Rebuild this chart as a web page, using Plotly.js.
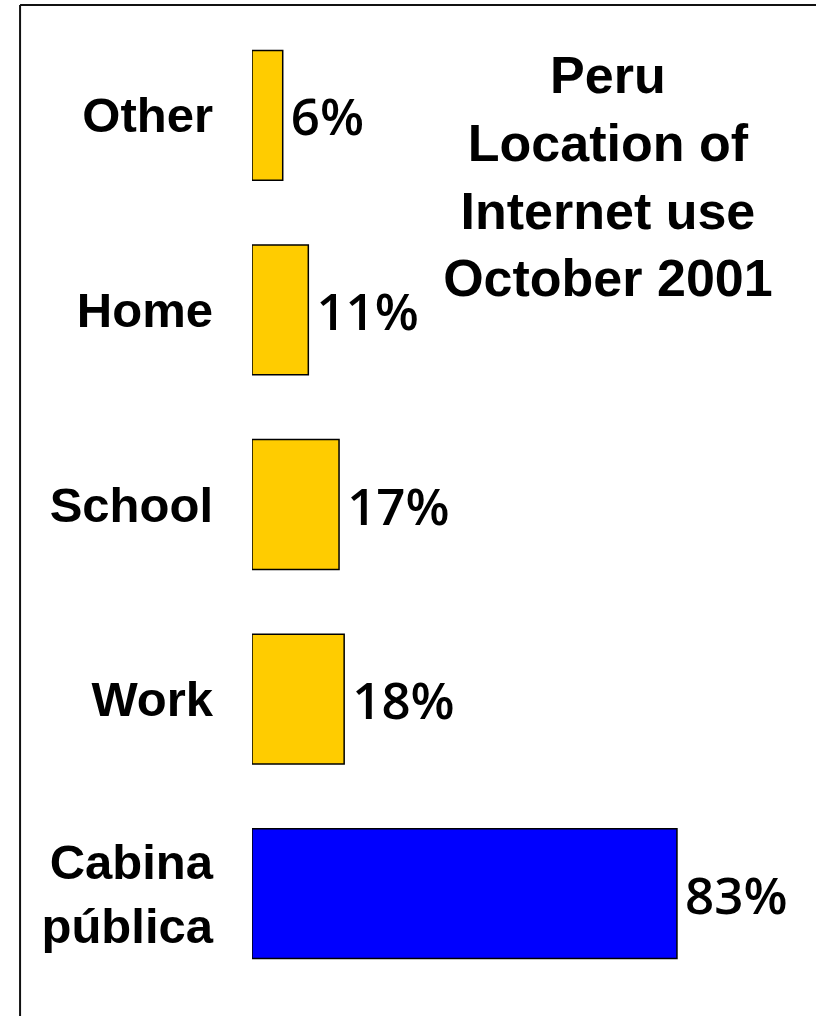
<!DOCTYPE html>
<html>
<head>
<meta charset="utf-8">
<script src="https://cdn.plot.ly/plotly-3.0.1.min.js"></script>
<style>html,body{margin:0;padding:0;background:#fff;overflow:hidden}#chart{width:816px;height:1016px}</style>
</head>
<body>
<div id="chart"></div>
<script>
const categories = ['Cabina pública', 'Work', 'School', 'Home', 'Other'];
const tickLabels = ['Cabina<br>pública', 'Work', 'School', 'Home', 'Other'];
const shares = [83, 18, 17, 11, 6];
const shareLabels = ['83%', '18%', '17%', '11%', '6%'];
const barColors = ['#0000FF', '#FFCC00', '#FFCC00', '#FFCC00', '#FFCC00'];
const titleLines = ['Peru', 'Location of', 'Internet use', 'October 2001'];

const trace = {
  type: 'bar',
  orientation: 'h',
  y: categories,
  x: shares,
  text: shareLabels.map(s => '\u200A' + s),
  textposition: 'outside',
  cliponaxis: false,
  textfont: {family: 'Open Sans', size: 51, color: '#000', weight: 600},
  marker: {color: barColors, line: {color: '#000', width: 1.5}},
  hoverinfo: 'none'
};

const layout = {
  width: 816,
  height: 1016,
  margin: {l: 252, r: 52, t: 18, b: 25},
  paper_bgcolor: '#fff',
  plot_bgcolor: '#fff',
  showlegend: false,
  bargap: 0.333,
  title: {
    text: titleLines.join('<br>'),
    font: {family: 'Liberation Sans', size: 52, color: '#000', weight: 'bold'},
    x: 0.745, xanchor: 'center', xref: 'container',
    y: 0.908, yanchor: 'top', yref: 'container'
  },
  xaxis: {
    range: [0, 100],
    showgrid: false, zeroline: false, showline: false,
    showticklabels: false, ticks: '', fixedrange: true
  },
  yaxis: {
    type: 'category',
    categoryorder: 'array',
    categoryarray: categories,
    tickvals: categories,
    ticktext: tickLabels,
    range: [-0.5, 4.5],
    showgrid: false, zeroline: false, showline: false, ticks: '',
    ticklabelstandoff: 38,
    tickfont: {family: 'Liberation Sans', size: 49, color: '#000', weight: 'bold'},
    fixedrange: true
  },
  shapes: [
    {type: 'line', xref: 'paper', yref: 'paper', x0: -0.453, x1: 1.2, y0: 1.0134, y1: 1.0134, line: {color: '#111', width: 2}},
    {type: 'line', xref: 'paper', yref: 'paper', x0: -0.453, x1: -0.453, y0: -0.1, y1: 1.0134, line: {color: '#111', width: 2}}
  ]
};

Plotly.newPlot('chart', [trace], layout, {displayModeBar: false, staticPlot: true});
</script>
</body>
</html>
